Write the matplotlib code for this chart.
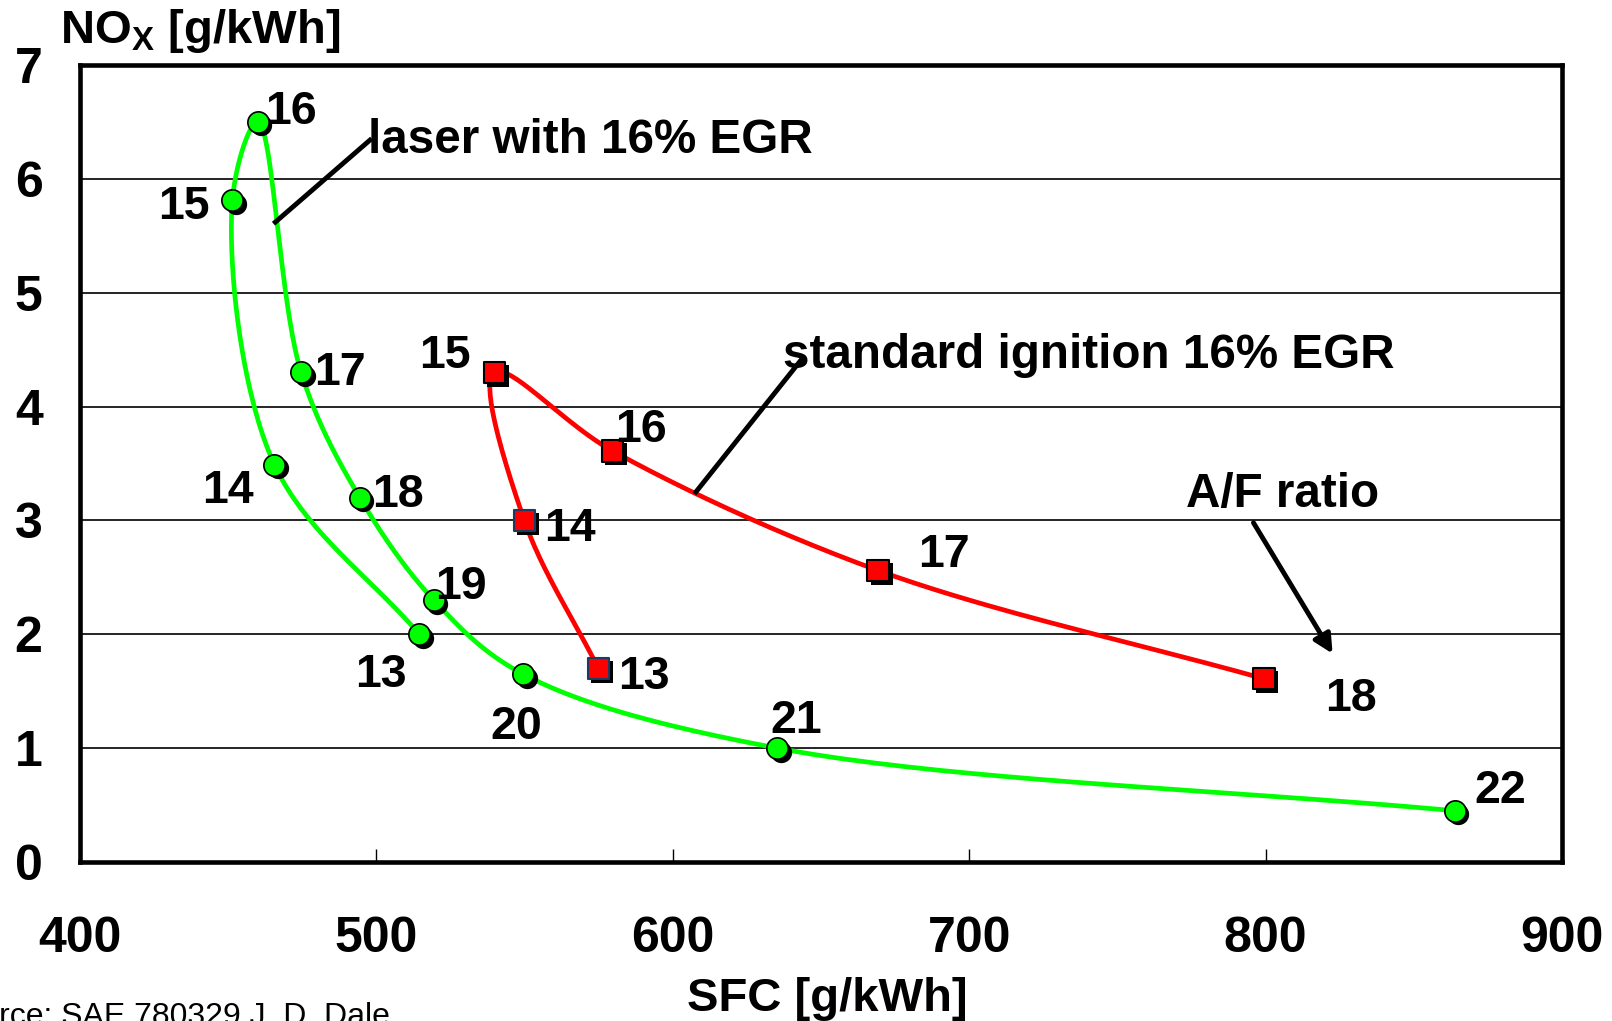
import numpy as np
import matplotlib
matplotlib.use("Agg")
import matplotlib.pyplot as plt
from matplotlib.transforms import offset_copy

plt.rcParams['font.family'] = ['Liberation Sans', 'DejaVu Sans']
plt.rcParams['font.weight'] = 'bold'
plt.rcParams['mathtext.fontset'] = 'custom'
plt.rcParams['mathtext.rm'] = 'Liberation Sans:bold'
plt.rcParams['mathtext.it'] = 'Liberation Sans:bold'
plt.rcParams['mathtext.bf'] = 'Liberation Sans:bold'

# Laser ignition with 16 % EGR, ordered by A/F ratio
laser_af = [13, 14, 15, 16, 17, 18, 19, 20, 21, 22]
laser_sfc = [514.5, 465.6, 451.4, 460.0, 474.6, 494.4, 519.4, 549.5, 635.3, 863.9]
laser_nox = [2.00, 3.49, 5.81, 6.50, 4.30, 3.20, 2.30, 1.65, 1.00, 0.45]

# Standard spark ignition with 16 % EGR, ordered by A/F ratio
std_af = [13, 14, 15, 16, 17, 18]
std_sfc = [574.9, 549.9, 539.8, 579.7, 669.3, 799.4]
std_nox = [1.70, 3.00, 4.30, 3.61, 2.56, 1.61]

x_ticks = [400, 500, 600, 700, 800, 900]
y_ticks = [0, 1, 2, 3, 4, 5, 6, 7]

# label placement (pixels from the marker centre to the digit centre)
laser_label_offsets = {13: (-39, -37), 14: (-47, -22), 15: (-48, -3), 16: (33, 14),
                       17: (39, 3), 18: (38, 7), 19: (27, 17), 20: (-7, -49),
                       21: (19, 31), 22: (45, 24)}
std_label_offsets = {13: (45, -5), 14: (46, -5), 15: (-49, 20), 16: (28, 25),
                     17: (66, 20), 18: (87, -16)}

W, H = 1612, 1021
fig = plt.figure(figsize=(W / 100, H / 100), dpi=100)
ax = fig.add_axes([80 / W, 1 - 862 / H, (1562 - 80) / W, (862 - 65) / H])
ax.set_xlim(400, 900)
ax.set_ylim(0, 7)


def smooth(xs, ys, n=40):
    """Centripetal Catmull-Rom curve through the points, in screen space."""
    P = ax.transData.transform(np.column_stack([xs, ys]))
    P = np.vstack([2 * P[0] - P[1], P, 2 * P[-1] - P[-2]])
    out = []
    t = np.linspace(0, 1, n, endpoint=False)[:, None]
    for i in range(1, len(P) - 2):
        p0, p1, p2, p3 = P[i - 1], P[i], P[i + 1], P[i + 2]
        l1 = np.linalg.norm(p1 - p0)
        l2 = np.linalg.norm(p2 - p1)
        l3 = np.linalg.norm(p3 - p2)
        d1, d2, d3 = np.sqrt(l1), np.sqrt(l2), np.sqrt(l3)
        c1 = (l1 * p2 - l2 * p0 + (2 * l1 + 3 * d1 * d2 + l2) * p1) / (3 * d1 * (d1 + d2))
        c2 = (l3 * p1 - l2 * p3 + (2 * l3 + 3 * d3 * d2 + l2) * p2) / (3 * d3 * (d3 + d2))
        seg = (1 - t) ** 3 * p1 + 3 * (1 - t) ** 2 * t * c1 + 3 * (1 - t) * t ** 2 * c2 + t ** 3 * p2
        out.append(seg)
    out.append(P[-2][None])
    return ax.transData.inverted().transform(np.vstack(out))


green = '#00FF00'
red = '#FF0000'

# grid and frame
ax.set_yticks(y_ticks)
ax.set_xticks(x_ticks)
ax.grid(axis='y', color='black', lw=1.2, zorder=0)
for s in ax.spines.values():
    s.set_linewidth(3.3)
    s.set_zorder(6)
ax.tick_params(axis='x', direction='in', length=9.5, width=1.0, pad=39, labelsize=36)
ax.tick_params(axis='y', length=0, pad=27, labelsize=36)

# curves
sl = smooth(laser_sfc, laser_nox)
ax.plot(sl[:, 0], sl[:, 1], color=green, lw=3.4, zorder=2, solid_capstyle='round')
ss = smooth(std_sfc, std_nox)
ax.plot(ss[:, 0], ss[:, 1], color=red, lw=3.4, zorder=2, solid_capstyle='round')

# markers with drop shadow
shadow = offset_copy(ax.transData, fig=fig, x=3.5, y=-3.5, units='dots')
ax.scatter(laser_sfc, laser_nox, s=235, marker='o', color='black', transform=shadow, zorder=3, lw=0)
ax.scatter(laser_sfc, laser_nox, s=235, marker='o', facecolor=green, edgecolor='black', lw=1.2, zorder=4)
std_edges = ['#1F3A60' if af in (13, 14) else 'black' for af in std_af]
ax.scatter(std_sfc, std_nox, s=240, marker='s', color='black', transform=shadow, zorder=3, lw=0)
ax.scatter(std_sfc, std_nox, s=240, marker='s', facecolor=red, edgecolor=std_edges, lw=1.5, zorder=4)

# A/F ratio labels
half_cap = 16
for af, x, y in zip(laser_af, laser_sfc, laser_nox):
    dx, dy = laser_label_offsets[af]
    ax.annotate(str(af), (x, y), xytext=(dx, dy - half_cap), textcoords='offset pixels',
                ha='center', va='baseline', fontsize=33.5, zorder=5)
for af, x, y in zip(std_af, std_sfc, std_nox):
    dx, dy = std_label_offsets[af]
    ax.annotate(str(af), (x, y), xytext=(dx, dy - half_cap), textcoords='offset pixels',
                ha='center', va='baseline', fontsize=33.5, zorder=5)

# callouts
ax.plot([465.9, 497.8], [5.62, 6.34], color='black', lw=3.5, zorder=5)
ax.text(497.2, 6.23, 'laser with 16% EGR', fontsize=34.3, ha='left', va='baseline', zorder=5)
ax.plot([607.8, 643.6], [3.25, 4.42], color='black', lw=3.5, zorder=5)
ax.text(637.3, 4.34, 'standard ignition 16% EGR', fontsize=34.3, ha='left', va='baseline', zorder=5)
ax.annotate('', xy=(822.6, 1.83), xytext=(795.9, 2.98),
            arrowprops=dict(arrowstyle='-|>', lw=3.5, color='black', mutation_scale=28,
                            shrinkA=0, shrinkB=0), zorder=5)
ax.text(773.0, 3.115, 'A/F ratio', fontsize=34.3, ha='left', va='baseline', zorder=5)

# axis titles and source
fig.text(60 / W, 1 - 43 / H, r'NO$_\mathrm{X}$ [g/kWh]', fontsize=34, ha='left', va='baseline')
fig.text(827 / W, 1 - 1011 / H, 'SFC [g/kWh]', fontsize=34, ha='center', va='baseline')
fig.text(-58 / W, 1 - 1025 / H, 'Source: SAE 780329 J. D. Dale', fontsize=23,
         fontweight='normal', ha='left', va='baseline')

fig.savefig('out.png', dpi=100)
